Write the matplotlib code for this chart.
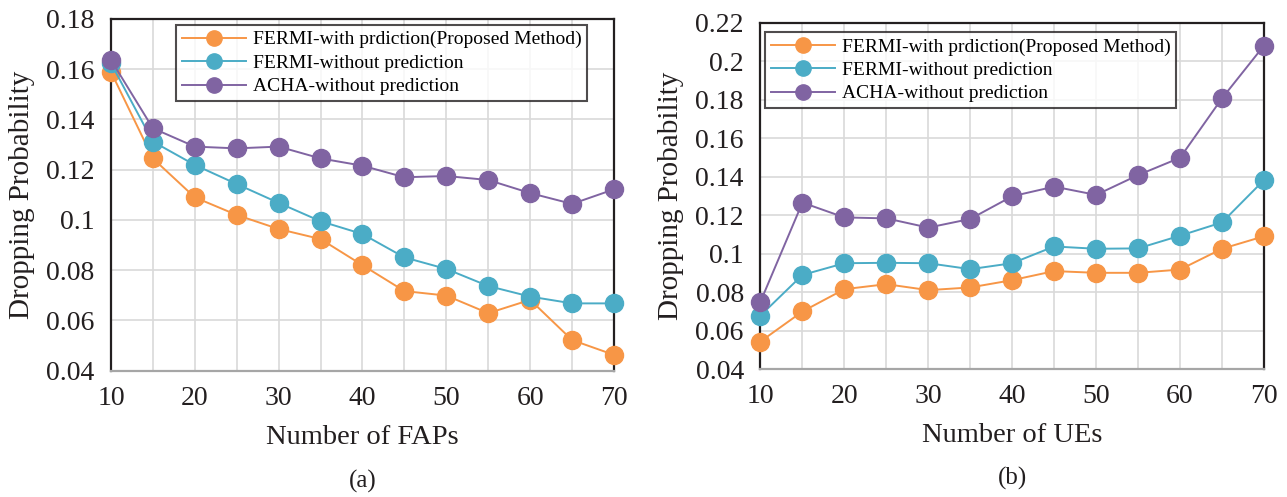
import matplotlib.pyplot as plt
from matplotlib.ticker import MultipleLocator, FuncFormatter

# Datos
x = [10, 15, 20, 25, 30, 35, 40, 45, 50, 55, 60, 65, 70]

faps_con_pred = [0.159, 0.1245, 0.109, 0.102, 0.0964, 0.0924, 0.082, 0.0717, 0.0699, 0.0629, 0.0682, 0.0522, 0.0463]
faps_sin_pred = [0.1624, 0.1312, 0.1219, 0.1143, 0.1068, 0.0995, 0.0944, 0.0851, 0.0805, 0.0737, 0.0695, 0.0668, 0.0668]
faps_acha = [0.1637, 0.1365, 0.1292, 0.1285, 0.1292, 0.1245, 0.1216, 0.117, 0.1175, 0.1159, 0.1107, 0.1064, 0.1122]

ues_con_pred = [0.0543, 0.0699, 0.0815, 0.0841, 0.081, 0.0824, 0.0862, 0.0909, 0.09, 0.09, 0.0917, 0.1025, 0.109]
ues_sin_pred = [0.0678, 0.0889, 0.095, 0.0952, 0.095, 0.0919, 0.095, 0.1037, 0.1025, 0.1027, 0.1093, 0.1162, 0.1382]
ues_acha = [0.075, 0.1265, 0.1188, 0.1183, 0.1135, 0.118, 0.1298, 0.1348, 0.1305, 0.1408, 0.1498, 0.1807, 0.2081]

etiquetas = ['FERMI-with prdiction(Proposed Method)', 'FERMI-without prediction', 'ACHA-without prediction']
colores = ['#F79646', '#4BACC6', '#8064A2']

plt.rcParams['font.family'] = ['Liberation Serif', 'DejaVu Serif']

fig = plt.figure(figsize=(12.87, 4.97), dpi=100)
ax1 = fig.add_axes([0.0862, 0.2541, 0.3909, 0.7077])
ax2 = fig.add_axes([0.5909, 0.2575, 0.3912, 0.6968])


def fmt(v, pos):
    return ('%.2f' % v).rstrip('0')


def dibujar(ax, series, ymin, ymax, xlabel, caption, ancla):
    for ys, c, lab in zip(series, colores, etiquetas):
        ax.plot(x, ys, color=c, lw=1.4, marker='o', ms=13, label=lab, zorder=3, clip_on=False)
    ax.set_xlim(10, 70)
    ax.set_ylim(ymin, ymax)
    ax.xaxis.set_major_locator(MultipleLocator(10))
    ax.xaxis.set_minor_locator(MultipleLocator(5))
    ax.yaxis.set_major_locator(MultipleLocator(0.02))
    ax.yaxis.set_major_formatter(FuncFormatter(fmt))
    ax.grid(which='both', color='#D9D9D9', lw=1.2)
    ax.set_axisbelow(True)
    ax.tick_params(which='both', length=0, labelsize=20, colors='#231F20')
    ax.tick_params(axis='y', pad=12)
    ax.tick_params(axis='x', pad=11)
    for s in ['left', 'right', 'top']:
        ax.spines[s].set_color('#231F20')
        ax.spines[s].set_linewidth(1.6)
    ax.spines['bottom'].set_color('#A6A6A6')
    ax.spines['bottom'].set_linewidth(1.6)
    ax.set_xlabel(xlabel, fontsize=20.5, color='#231F20', labelpad=10)
    ax.set_ylabel('Dropping Probability', fontsize=21, color='#231F20', labelpad=8)
    ax.text(0.5, -0.315, caption, transform=ax.transAxes, ha='center', va='center', fontsize=18, color='#231F20')
    leg = ax.legend(loc='upper left', bbox_to_anchor=ancla, fontsize=14, frameon=True,
                    fancybox=False, edgecolor='#231F20', handlelength=3.3, borderpad=0.3,
                    labelspacing=0.3, handletextpad=0.35, borderaxespad=0)
    leg.get_frame().set_linewidth(1.5)
    for h in leg.get_lines():
        h.set_markersize(11)


dibujar(ax1, [faps_con_pred, faps_sin_pred, faps_acha], 0.04, 0.18, 'Number of FAPs', '(a)', (0.129, 0.983))
dibujar(ax2, [ues_con_pred, ues_sin_pred, ues_acha], 0.04, 0.22, 'Number of UEs', '(b)', (0.009, 0.973))

plt.savefig('out.png', dpi=100)
